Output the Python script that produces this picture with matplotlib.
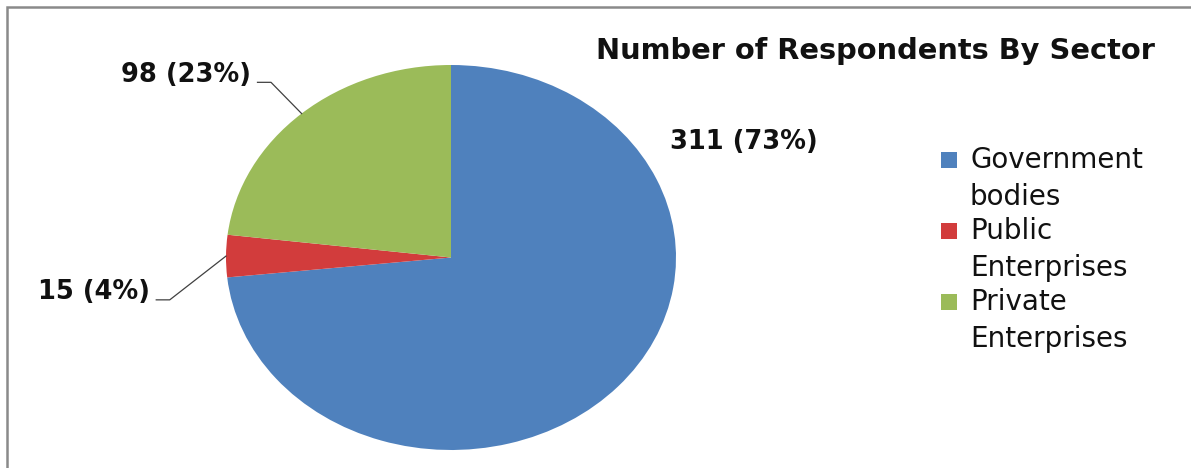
import numpy as np
import matplotlib.pyplot as plt
from matplotlib.patches import Rectangle

## respondents per sector
sectors = ["Government\nbodies", "Public\nEnterprises", "Private\nEnterprises"]
counts = [311, 15, 98]
colors = ["#4f81bd", "#d23c3c", "#9bbb59"]

W, H = 1191, 468
fig = plt.figure(figsize=(W/100, H/100), dpi=100)
fig.patch.set_facecolor("white")

def fx(px):
    return px / W

def fy(py):
    return 1 - py / H

# chart frame (only left and top edges fall inside the image)
fig.add_artist(Rectangle((fx(7), -0.1), 1.2, fy(7) + 0.1,
                         transform=fig.transFigure, fill=False,
                         edgecolor="#8a8a8a", lw=1.8))

# pie stretched into an ellipse by filling a non-square axes
ax = fig.add_axes([fx(226), 18/H, 450/W, 385/H])
wedges, _ = ax.pie(counts, colors=colors, startangle=90, counterclock=False)
ax.set_aspect("auto")
ax.set_xlim(-1, 1)
ax.set_ylim(-1, 1)
ax.axis("off")

total = sum(counts)
pct = [round(100*c/total) for c in counts]
labels = ["%d (%d%%)" % (c, p) for c, p in zip(counts, pct)]

# label positions (axes data units) and whether they get a leader line
label_xy = [(1.30, 0.60), (-1.34, -0.18), (-0.89, 0.95)]
leaders = [False, True, True]

for w, lab, (lx, ly), lead in zip(wedges, labels, label_xy, leaders):
    if lead:
        ax.text(lx, ly, lab, ha="right", va="center", fontsize=18.5,
                fontweight="bold", color="#111111")
        mid = np.deg2rad((w.theta1 + w.theta2) / 2)
        ex, ey = np.cos(mid), np.sin(mid)
        x0 = lx + 0.03
        y0 = ly - 0.04
        ax.plot([x0, x0 + 0.06, ex], [y0, y0, ey], color="#404040",
                lw=0.9, clip_on=False)
    else:
        ax.text(lx, ly, lab, ha="center", va="center", fontsize=18.5,
                fontweight="bold", color="#111111")

fig.text(fx(875), fy(59), "Number of Respondents By Sector",
         ha="center", va="baseline", fontsize=20.8, fontweight="bold",
         color="#111111")

# legend: swatch next to the first line of each two-line label
line_gap = 37
for i, (lab, col) in enumerate(zip(sectors, colors)):
    first = 168 + i * 71
    fig.add_artist(Rectangle((fx(941), fy(first)), 16/W, 16/H,
                             transform=fig.transFigure, facecolor=col,
                             edgecolor="none"))
    # baseline alignment applies to the last line of the label
    fig.text(fx(970), fy(first + line_gap), lab, ha="left", va="baseline",
             fontsize=20, color="#111111", linespacing=1.42)

plt.savefig("out.png", dpi=100, facecolor="white")
